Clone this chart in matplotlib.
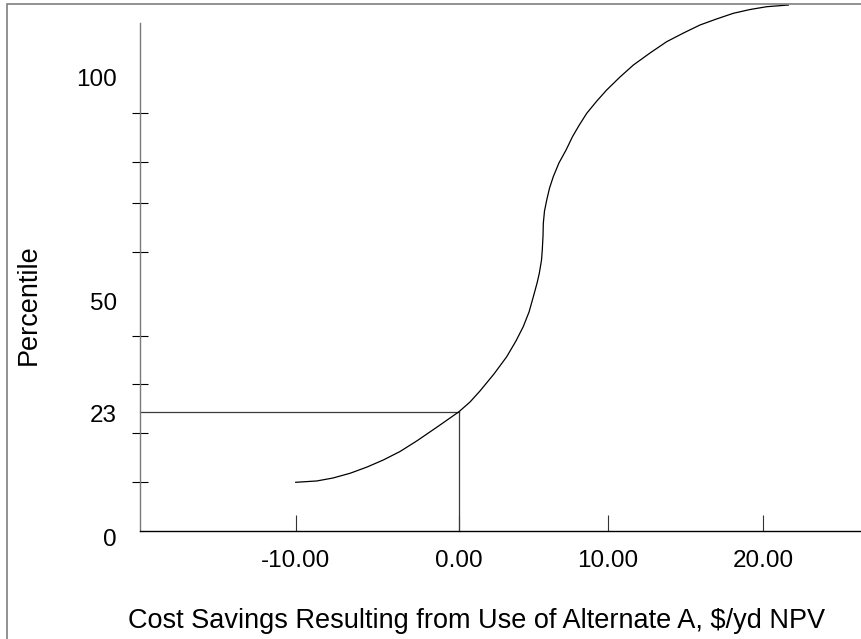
import numpy as np
import matplotlib
matplotlib.use("Agg")
import matplotlib.pyplot as plt
import matplotlib.transforms as mtransforms
from matplotlib.patches import Rectangle

plt.rcParams['font.family'] = ['Liberation Sans', 'DejaVu Sans']

# ---------------- data ----------------
savings = [-10.00, -8.71, -7.72, -6.67, -5.63, -4.64, -3.61, -2.59, -1.29, 0.00,
           0.74, 1.41, 2.35, 3.21, 3.83, 4.32, 4.71, 5.00, 5.25, 5.40,
           5.55, 5.60, 5.65, 5.67, 5.75, 5.90, 6.09, 6.34, 6.72, 7.20,
           7.63, 8.09, 8.59, 9.27, 9.93, 10.79, 11.65, 12.72, 13.79, 14.87,
           15.93, 16.99, 18.07, 19.15, 20.22, 21.61]
percentile = [10.00, 10.27, 10.87, 11.83, 13.10, 14.52, 16.25, 18.38, 20.92, 23.00,
              25.45, 28.23, 32.08, 35.69, 38.96, 42.74, 47.06, 51.07, 53.82, 55.77,
              58.45, 60.47, 63.33, 65.92, 68.43, 70.80, 73.73, 76.49, 79.83, 82.51,
              85.22, 87.61, 90.00, 92.98, 95.64, 98.79, 101.69, 104.60, 107.34, 109.44,
              111.38, 112.83, 114.21, 115.13, 115.81, 116.22]

read_savings = 0.0
read_percentile = 23

x_tick_values = [-10, 0, 10, 20]
x_tick_labels = ["-10.00", "0.00", "10.00", "20.00"]
y_label_values = [0, 23, 50, 100]
y_label_text = ["0", "23", "50", "100"]
y_mark_values = [10, 20, 30, 40, 50, 60, 70, 80, 90, 100]

x_title = "Cost Savings Resulting from Use of Alternate A, $/yd NPV"
y_title = "Percentile"

# ---------------- uneven axis spacing of the source chart ----------------
X_ANCHOR_DATA = [-10, 0, 10, 20]
X_ANCHOR_POS = [295.7, 459.0, 607.7, 763.3]
Y_ANCHOR_DATA = [0, 10, 20, 23, 30, 40, 50, 60, 70, 80, 90, 100]
Y_ANCHOR_ROW = [531, 482.3, 433, 411.7, 384, 336, 302, 252.3, 203.3, 162.3, 113.3, 72]


def make_interp(xs, ys):
    xs = np.asarray(xs, float)
    ys = np.asarray(ys, float)
    s0 = (ys[1] - ys[0]) / (xs[1] - xs[0])
    s1 = (ys[-1] - ys[-2]) / (xs[-1] - xs[-2])

    def f(v):
        v = np.asarray(v, float)
        with np.errstate(invalid='ignore'):
            out = np.interp(v, xs, ys)
            out = np.where(v < xs[0], ys[0] + (v - xs[0]) * s0, out)
            out = np.where(v > xs[-1], ys[-1] + (v - xs[-1]) * s1, out)
        return out
    return f


fx = make_interp(X_ANCHOR_DATA, X_ANCHOR_POS)
fx_inv = make_interp(X_ANCHOR_POS, X_ANCHOR_DATA)
y_pos = -np.asarray(Y_ANCHOR_ROW, float)
fy = make_interp(Y_ANCHOR_DATA, y_pos)
fy_inv = make_interp(y_pos, Y_ANCHOR_DATA)

# ---------------- figure ----------------
W, H = 862, 639
fig = plt.figure(figsize=(W / 100, H / 100), dpi=100)
ax = fig.add_axes([140 / W, (H - 531) / H, (W - 140) / W, (531 - 3) / H])

ax.set_xscale('function', functions=(fx, fx_inv))
ax.set_yscale('function', functions=(fy, fy_inv))
ax.set_xlim(float(fx_inv(140.0)), float(fx_inv(862.0)))
ax.set_ylim(0, float(fy_inv(-3.0)))

# reference lines
x0 = ax.get_xlim()[0]
ax.plot([x0, read_savings], [read_percentile, read_percentile], color='#3a3a3a', lw=0.9, clip_on=False)
ax.plot([read_savings, read_savings], [0, read_percentile], color='#3a3a3a', lw=0.9, clip_on=False)

# curve
ax.plot(savings, percentile, color='black', lw=0.9, clip_on=False, solid_joinstyle='round')

# spines
for s in ['top', 'right']:
    ax.spines[s].set_visible(False)
ax.spines['left'].set_color('#7a7a7a')
ax.spines['left'].set_linewidth(1.0)
ax.spines['left'].set_bounds(0, float(fy_inv(-23.0)))
ax.spines['bottom'].set_color('black')
ax.spines['bottom'].set_linewidth(1.0)

# ticks
ax.set_xticks(x_tick_values, x_tick_labels)
ax.xaxis.set_minor_locator(matplotlib.ticker.NullLocator())
ax.tick_params(axis='x', which='major', direction='in', length=11.5, width=0.8,
               color='#333333', pad=14, labelsize=17.5)
ax.set_yticks(y_label_values, y_label_text)
ax.set_yticks(y_mark_values, minor=True)
ax.tick_params(axis='y', which='major', length=0, pad=16.5, labelsize=17.5)
ax.tick_params(axis='y', which='minor', direction='inout', length=11.5, width=0.8,
               color='black')

# small vertical nudges of the y labels, as in the source
for tick, dy_px in zip(ax.yaxis.get_major_ticks(), [-6, -1.5, 0, -5]):
    tick.label1.set_transform(tick.label1.get_transform()
                              + mtransforms.ScaledTranslation(0, dy_px / 100, fig.dpi_scale_trans))

# axis titles
ax.set_xlabel(x_title, fontsize=19.5)
ax.xaxis.set_label_coords((477 - 140) / 722, -(621 - 531) / 528)
ax.xaxis.label.set_verticalalignment('center')
ax.set_ylabel(y_title, fontsize=19.5)
ax.yaxis.set_label_coords((29 - 140) / 722, (531 - 305) / 528)
ax.yaxis.label.set_verticalalignment('center')

# outer frame
fig.add_artist(Rectangle((6.7 / W, -0.05), 1.2, 0.05 + 1 - 3.5 / H,
                         transform=fig.transFigure, fill=False,
                         edgecolor='#7f7f7f', lw=1.2))

fig.savefig('out.png', dpi=100)
